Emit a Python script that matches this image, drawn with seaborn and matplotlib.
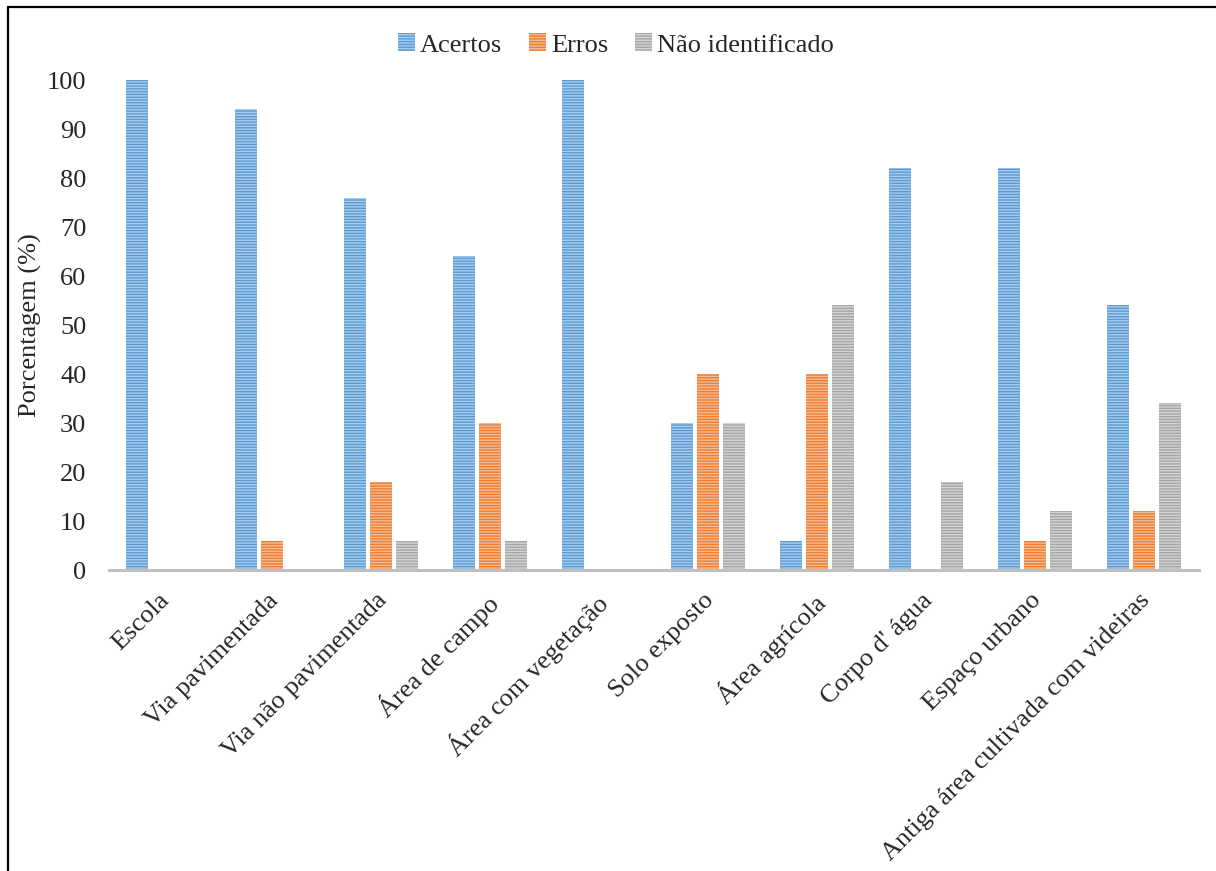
import matplotlib
matplotlib.use("Agg")
import matplotlib.pyplot as plt
import matplotlib.transforms as mtransforms
from matplotlib.lines import Line2D
from matplotlib.patches import Patch
import seaborn as sns
import pandas as pd

categories = ["Escola", "Via pavimentada", "Via não pavimentada", "Área de campo",
              "Área com vegetação", "Solo exposto", "Área agrícola", "Corpo d' água",
              "Espaço urbano", "Antiga área cultivada com videiras"]
series_names = ["Acertos", "Erros", "Não identificado"]
acertos = [100, 94, 76, 64, 100, 30, 6, 82, 82, 54]
erros = [0, 6, 18, 30, 0, 40, 40, 0, 6, 12]
nao_ident = [0, 0, 6, 6, 0, 30, 54, 18, 12, 34]
y_ticks = [0, 10, 20, 30, 40, 50, 60, 70, 80, 90, 100]

colors = ["#5B9BD5", "#ED7D31", "#A5A5A5"]
stripe = ["#A9CBEA", "#F6BB93", "#D4D4D4"]

rows = []
for name, vals in zip(series_names, [acertos, erros, nao_ident]):
    for c, v in zip(categories, vals):
        rows.append({"cat": c, "serie": name, "val": v})
df = pd.DataFrame(rows)

sns.set_theme(style="white")
plt.rcParams['font.family'] = ['Liberation Serif', 'DejaVu Serif']
plt.rcParams['hatch.linewidth'] = 1.0

fig = plt.figure(figsize=(12.16, 8.71), dpi=100)
ax = fig.add_axes([108.5/1216, 1-570/871, 1090/1216, 490/871])

sns.barplot(data=df, x="cat", y="val", hue="serie", hue_order=series_names,
            order=categories, palette=colors, width=0.72, gap=0.18,
            saturation=1, legend=False, ax=ax)

for i, cont in enumerate(ax.containers):
    for bar in cont:
        bar.set_hatch('------')
        bar.set_edgecolor(stripe[i])
        bar.set_linewidth(0)

ax.set_xlim(-0.5, len(categories) - 0.5)
ax.set_ylim(0, 100)
ax.set_yticks(y_ticks)
ax.set_yticklabels([str(t) for t in y_ticks], fontsize=19)
ax.tick_params(axis='y', length=0, pad=16)
ax.tick_params(axis='x', length=0, pad=14)
ax.set_xticks(range(len(categories)))
ax.set_xticklabels(categories, rotation=45, ha='right', rotation_mode='anchor', fontsize=19)
shift = mtransforms.ScaledTranslation(-5/100, 0, fig.dpi_scale_trans)
for lbl in ax.get_xticklabels():
    lbl.set_transform(lbl.get_transform() + shift)
ax.set_xlabel("")
ax.set_ylabel("Porcentagem (%)", fontsize=19, labelpad=3.5)
for s in ['top', 'right', 'left']:
    ax.spines[s].set_visible(False)
ax.spines['bottom'].set_color('#BFBFBF')
ax.spines['bottom'].set_linewidth(2.2)
ax.grid(False)

handles = [Patch(facecolor=colors[i], edgecolor=stripe[i], hatch='------', linewidth=0)
           for i in range(3)]
fig.legend(handles, series_names, loc='center', bbox_to_anchor=(616/1216, 1-45/871),
           ncol=3, frameon=False, fontsize=19, handlelength=0.65, handleheight=0.65,
           handletextpad=0.2, columnspacing=1.0)

# outer frame (clipped on right and bottom)
fig.add_artist(Line2D([7.5/1216, 7.5/1216], [0, 1-7.5/871], transform=fig.transFigure,
                      color='black', linewidth=1.6))
fig.add_artist(Line2D([7.5/1216, 1], [1-7.5/871, 1-7.5/871], transform=fig.transFigure,
                      color='black', linewidth=1.6))

fig.savefig("out.png", dpi=100, facecolor='white')
